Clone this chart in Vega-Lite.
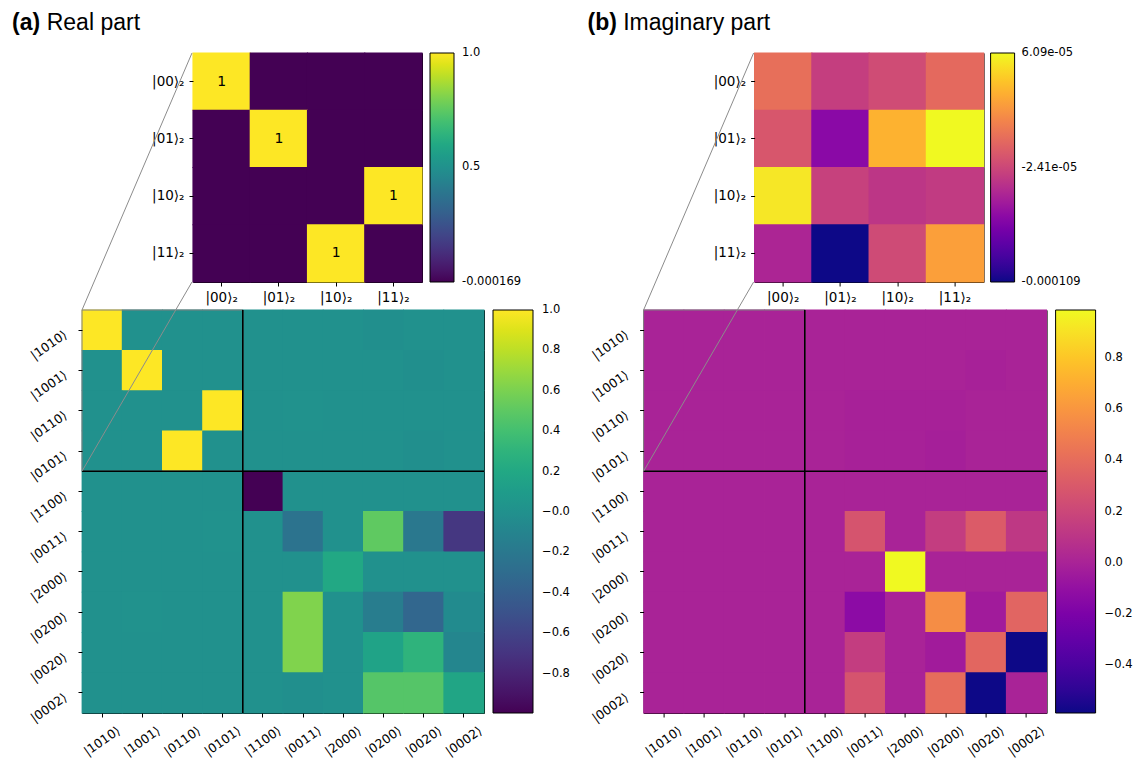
{
  "$schema": "https://vega.github.io/schema/vega-lite/v6.json",
  "background": "white",
  "padding": {"left": 12, "top": 11, "right": 2, "bottom": 2},
  "config": {
    "view": {"stroke": "black", "strokeWidth": 1},
    "axis": {"domain": false, "ticks": true, "tickColor": "black", "tickSize": 4, "tickWidth": 1, "labelColor": "black", "labelFont": "DejaVu Sans", "labelFontSize": 12.5, "grid": false, "labelOverlap": false},
    "legend": {"labelFont": "DejaVu Sans", "labelFontSize": 11.5, "labelColor": "black", "gradientStrokeColor": "black", "gradientStrokeWidth": 1, "padding": 0, "labelOverlap": false},
    "title": {"font": "Liberation Sans", "fontSize": 23, "anchor": "start", "frame": "group", "color": "black"}
  },
  "datasets": {
    "big": [
      {"r":"|1010⟩","c":"|1010⟩","re":1,"im":0},{"r":"|1010⟩","c":"|1001⟩","re":0,"im":0},{"r":"|1010⟩","c":"|0110⟩","re":0,"im":0},{"r":"|1010⟩","c":"|0101⟩","re":0,"im":0},{"r":"|1010⟩","c":"|1100⟩","re":0,"im":0},{"r":"|1010⟩","c":"|0011⟩","re":0,"im":0},{"r":"|1010⟩","c":"|2000⟩","re":0,"im":0},{"r":"|1010⟩","c":"|0200⟩","re":-0.01,"im":0},{"r":"|1010⟩","c":"|0020⟩","re":0,"im":0},{"r":"|1010⟩","c":"|0002⟩","re":0,"im":0},
      {"r":"|1001⟩","c":"|1010⟩","re":0,"im":0},{"r":"|1001⟩","c":"|1001⟩","re":1,"im":0},{"r":"|1001⟩","c":"|0110⟩","re":0,"im":0},{"r":"|1001⟩","c":"|0101⟩","re":0,"im":0},{"r":"|1001⟩","c":"|1100⟩","re":0,"im":0},{"r":"|1001⟩","c":"|0011⟩","re":0,"im":0},{"r":"|1001⟩","c":"|2000⟩","re":0,"im":0},{"r":"|1001⟩","c":"|0200⟩","re":0,"im":0},{"r":"|1001⟩","c":"|0020⟩","re":-0.01,"im":-0.01},{"r":"|1001⟩","c":"|0002⟩","re":0,"im":0},
      {"r":"|0110⟩","c":"|1010⟩","re":0,"im":0},{"r":"|0110⟩","c":"|1001⟩","re":0,"im":0},{"r":"|0110⟩","c":"|0110⟩","re":0,"im":0},{"r":"|0110⟩","c":"|0101⟩","re":1,"im":0},{"r":"|0110⟩","c":"|1100⟩","re":0,"im":0},{"r":"|0110⟩","c":"|0011⟩","re":0.01,"im":-0.01},{"r":"|0110⟩","c":"|2000⟩","re":0,"im":-0.01},{"r":"|0110⟩","c":"|0200⟩","re":0,"im":-0.01},{"r":"|0110⟩","c":"|0020⟩","re":0,"im":0},{"r":"|0110⟩","c":"|0002⟩","re":0,"im":0},
      {"r":"|0101⟩","c":"|1010⟩","re":0,"im":0},{"r":"|0101⟩","c":"|1001⟩","re":0,"im":0},{"r":"|0101⟩","c":"|0110⟩","re":1,"im":0},{"r":"|0101⟩","c":"|0101⟩","re":0,"im":0},{"r":"|0101⟩","c":"|1100⟩","re":0,"im":0},{"r":"|0101⟩","c":"|0011⟩","re":0,"im":-0.01},{"r":"|0101⟩","c":"|2000⟩","re":0,"im":-0.01},{"r":"|0101⟩","c":"|0200⟩","re":0,"im":-0.02},{"r":"|0101⟩","c":"|0020⟩","re":-0.01,"im":0},{"r":"|0101⟩","c":"|0002⟩","re":0,"im":0},
      {"r":"|1100⟩","c":"|1010⟩","re":0,"im":0},{"r":"|1100⟩","c":"|1001⟩","re":0,"im":0},{"r":"|1100⟩","c":"|0110⟩","re":0,"im":0},{"r":"|1100⟩","c":"|0101⟩","re":0,"im":0},{"r":"|1100⟩","c":"|1100⟩","re":-0.995,"im":0},{"r":"|1100⟩","c":"|0011⟩","re":0,"im":0},{"r":"|1100⟩","c":"|2000⟩","re":0,"im":0},{"r":"|1100⟩","c":"|0200⟩","re":0,"im":0},{"r":"|1100⟩","c":"|0020⟩","re":0,"im":0},{"r":"|1100⟩","c":"|0002⟩","re":0,"im":0},
      {"r":"|0011⟩","c":"|1010⟩","re":0,"im":0},{"r":"|0011⟩","c":"|1001⟩","re":0,"im":0},{"r":"|0011⟩","c":"|0110⟩","re":0,"im":0},{"r":"|0011⟩","c":"|0101⟩","re":0.01,"im":0},{"r":"|0011⟩","c":"|1100⟩","re":0,"im":0},{"r":"|0011⟩","c":"|0011⟩","re":-0.24,"im":0.27},{"r":"|0011⟩","c":"|2000⟩","re":0,"im":0},{"r":"|0011⟩","c":"|0200⟩","re":0.51,"im":0.15},{"r":"|0011⟩","c":"|0020⟩","re":-0.2,"im":0.31},{"r":"|0011⟩","c":"|0002⟩","re":-0.68,"im":0.12},
      {"r":"|2000⟩","c":"|1010⟩","re":0,"im":0},{"r":"|2000⟩","c":"|1001⟩","re":0,"im":0},{"r":"|2000⟩","c":"|0110⟩","re":0,"im":0},{"r":"|2000⟩","c":"|0101⟩","re":0,"im":0},{"r":"|2000⟩","c":"|1100⟩","re":0,"im":0},{"r":"|2000⟩","c":"|0011⟩","re":0,"im":0},{"r":"|2000⟩","c":"|2000⟩","re":0.2,"im":0.986},{"r":"|2000⟩","c":"|0200⟩","re":0,"im":0},{"r":"|2000⟩","c":"|0020⟩","re":0,"im":0},{"r":"|2000⟩","c":"|0002⟩","re":0,"im":0},
      {"r":"|0200⟩","c":"|1010⟩","re":0,"im":0},{"r":"|0200⟩","c":"|1001⟩","re":0.01,"im":0},{"r":"|0200⟩","c":"|0110⟩","re":0,"im":0},{"r":"|0200⟩","c":"|0101⟩","re":0,"im":0},{"r":"|0200⟩","c":"|1100⟩","re":0,"im":0},{"r":"|0200⟩","c":"|0011⟩","re":0.62,"im":-0.13},{"r":"|0200⟩","c":"|2000⟩","re":0,"im":0},{"r":"|0200⟩","c":"|0200⟩","re":-0.16,"im":0.56},{"r":"|0200⟩","c":"|0020⟩","re":-0.34,"im":-0.04},{"r":"|0200⟩","c":"|0002⟩","re":-0.04,"im":0.36},
      {"r":"|0020⟩","c":"|1010⟩","re":0,"im":0},{"r":"|0020⟩","c":"|1001⟩","re":0,"im":0},{"r":"|0020⟩","c":"|0110⟩","re":0,"im":0},{"r":"|0020⟩","c":"|0101⟩","re":0,"im":0},{"r":"|0020⟩","c":"|1100⟩","re":0,"im":0},{"r":"|0020⟩","c":"|0011⟩","re":0.62,"im":0.145},{"r":"|0020⟩","c":"|2000⟩","re":0,"im":0},{"r":"|0020⟩","c":"|0200⟩","re":0.16,"im":-0.04},{"r":"|0020⟩","c":"|0020⟩","re":0.3,"im":0.37},{"r":"|0020⟩","c":"|0002⟩","re":-0.08,"im":-0.586},
      {"r":"|0002⟩","c":"|1010⟩","re":0,"im":0},{"r":"|0002⟩","c":"|1001⟩","re":0,"im":0},{"r":"|0002⟩","c":"|0110⟩","re":0,"im":0},{"r":"|0002⟩","c":"|0101⟩","re":0,"im":0},{"r":"|0002⟩","c":"|1100⟩","re":0,"im":0},{"r":"|0002⟩","c":"|0011⟩","re":-0.01,"im":0.27},{"r":"|0002⟩","c":"|2000⟩","re":0,"im":0},{"r":"|0002⟩","c":"|0200⟩","re":0.47,"im":0.4},{"r":"|0002⟩","c":"|0020⟩","re":0.47,"im":-0.586},{"r":"|0002⟩","c":"|0002⟩","re":0.18,"im":0}
    ],
    "ins": [
      {"r":"|00⟩₂","c":"|00⟩₂","re":1,"im":-0.000001},{"r":"|00⟩₂","c":"|01⟩₂","re":-0.000169,"im":-0.000029},{"r":"|00⟩₂","c":"|10⟩₂","re":0,"im":-0.000021},{"r":"|00⟩₂","c":"|11⟩₂","re":0,"im":-0.000004},
      {"r":"|01⟩₂","c":"|00⟩₂","re":0,"im":-0.000015},{"r":"|01⟩₂","c":"|01⟩₂","re":1,"im":-0.000061},{"r":"|01⟩₂","c":"|10⟩₂","re":0,"im":0.000032},{"r":"|01⟩₂","c":"|11⟩₂","re":0,"im":0.0000609},
      {"r":"|10⟩₂","c":"|00⟩₂","re":0,"im":0.000054},{"r":"|10⟩₂","c":"|01⟩₂","re":0,"im":-0.0000275},{"r":"|10⟩₂","c":"|10⟩₂","re":0,"im":-0.000034},{"r":"|10⟩₂","c":"|11⟩₂","re":1,"im":-0.000031},
      {"r":"|11⟩₂","c":"|00⟩₂","re":0,"im":-0.000044},{"r":"|11⟩₂","c":"|01⟩₂","re":0,"im":-0.000109},{"r":"|11⟩₂","c":"|10⟩₂","re":1,"im":-0.000022},{"r":"|11⟩₂","c":"|11⟩₂","re":0,"im":0.0000235}
    ]
  },
  "hconcat": [
    {
      "title": {"text": "(a)", "fontWeight": "bold", "dx": -70, "offset": -23},
      "spacing": -252,
      "resolve": {"scale": {"color": "independent"}, "legend": {"color": "independent"}},
      "vconcat": [
        {
          "title": {"text": "Real part", "fontWeight": "normal", "dx": -35.3, "offset": 17},
          "spacing": 21,
          "resolve": {"scale": {"color": "independent"}, "legend": {"color": "independent"}},
          "hconcat": [
            {"width": 48, "height": 229, "data": {"values": []}, "mark": "point", "view": {"stroke": null}},
            {
              "width": 229, "height": 229,
              "data": {"name": "ins"},
              "layer": [
                {
                  "mark": {"type": "rect", "width": {"band": 1.02}, "height": {"band": 1.02}},
                  "encoding": {
                    "x": {"field": "c", "type": "ordinal", "sort": ["|00⟩₂","|01⟩₂","|10⟩₂","|11⟩₂"], "scale": {"paddingInner": 0, "paddingOuter": 0}, "title": null, "axis": {"labelAngle": 0, "labelAlign": "center", "labelBaseline": "top", "labelPadding": 4, "labelFontSize": 13.5}},
                    "y": {"field": "r", "type": "ordinal", "sort": ["|00⟩₂","|01⟩₂","|10⟩₂","|11⟩₂"], "scale": {"paddingInner": 0, "paddingOuter": 0}, "title": null, "axis": {"labelAngle": 0, "labelAlign": "right", "labelBaseline": "middle", "labelPadding": 5, "labelFontSize": 13.5}},
                    "color": {"field": "re", "type": "quantitative", "scale": {"scheme": "viridis", "domain": [-0.000169, 1]}, "legend": {"title": null, "orient": "right", "direction": "vertical", "offset": 8, "gradientLength": 229, "gradientThickness": 24, "values": [-0.000169, 0.5, 1], "labelExpr": "datum.value < 0 ? '-0.000169' : format(datum.value, '.1f')", "labelOffset": 8, "encode": {"labels": {"update": {"baseline": {"value": "middle"}}}}}}
                  }
                },
                {
                  "transform": [{"filter": "datum.re > 0.5"}],
                  "mark": {"type": "text", "font": "DejaVu Sans", "fontSize": 14, "color": "black"},
                  "encoding": {
                    "x": {"field": "c", "type": "ordinal", "sort": ["|00⟩₂","|01⟩₂","|10⟩₂","|11⟩₂"]},
                    "y": {"field": "r", "type": "ordinal", "sort": ["|00⟩₂","|01⟩₂","|10⟩₂","|11⟩₂"]},
                    "text": {"field": "re", "type": "quantitative", "format": ".0f"}
                  }
                }
              ]
            }
          ]
        },
        {
          "width": 402, "height": 403,
          "resolve": {"scale": {"x": "independent", "y": "independent"}},
          "layer": [
            {
              "data": {"name": "big"},
              "mark": {"type": "rect", "width": {"band": 1.02}, "height": {"band": 1.02}},
              "encoding": {
                "x": {"field": "c", "type": "ordinal", "sort": ["|1010⟩","|1001⟩","|0110⟩","|0101⟩","|1100⟩","|0011⟩","|2000⟩","|0200⟩","|0020⟩","|0002⟩"], "scale": {"paddingInner": 0, "paddingOuter": 0}, "title": null, "axis": {"labelAngle": -35, "labelAlign": "center", "labelBaseline": "middle", "labelPadding": 23.7}},
                "y": {"field": "r", "type": "ordinal", "sort": ["|1010⟩","|1001⟩","|0110⟩","|0101⟩","|1100⟩","|0011⟩","|2000⟩","|0200⟩","|0020⟩","|0002⟩"], "scale": {"paddingInner": 0, "paddingOuter": 0}, "title": null, "axis": {"labelAngle": -35, "labelAlign": "center", "labelBaseline": "middle", "labelPadding": 29.6, "labelOffset": 15}},
                "color": {"field": "re", "type": "quantitative", "scale": {"scheme": "viridis", "domain": [-0.995, 1]}, "legend": {"title": null, "orient": "right", "direction": "vertical", "offset": 9, "gradientLength": 403, "gradientThickness": 40, "values": [1, 0.8, 0.6, 0.4, 0.2, 0, -0.2, -0.4, -0.6, -0.8], "labelExpr": "datum.value == 0 ? '−0.0' : format(datum.value, '.1f')", "labelOffset": 9, "encode": {"labels": {"update": {"baseline": {"value": "middle"}}}}}}
              }
            },
            {
              "data": {"values": [{}]},
              "layer": [
                {"mark": {"type": "rect", "filled": false, "color": "#808080", "strokeWidth": 1},
                 "encoding": {"x": {"datum": 0, "type": "quantitative", "scale": {"domain": [0, 10], "nice": false, "zero": false}, "axis": null}, "x2": {"datum": 4}, "y": {"datum": 0, "type": "quantitative", "scale": {"domain": [0, 10], "nice": false, "zero": false, "reverse": true}, "axis": null}, "y2": {"datum": 4}}},
                {"mark": {"type": "rule", "color": "black", "strokeWidth": 1.6},
                 "encoding": {"x": {"datum": 4, "type": "quantitative", "scale": {"domain": [0, 10], "nice": false, "zero": false}, "axis": null}}},
                {"mark": {"type": "rule", "color": "black", "strokeWidth": 1.6},
                 "encoding": {"y": {"datum": 4, "type": "quantitative", "scale": {"domain": [0, 10], "nice": false, "zero": false, "reverse": true}, "axis": null}}},
                {"mark": {"type": "rule", "color": "#8c8c8c", "strokeWidth": 1},
                 "encoding": {"x": {"datum": 2.736, "type": "quantitative", "scale": {"domain": [0, 10], "nice": false, "zero": false}, "axis": null}, "y": {"datum": -6.377, "type": "quantitative", "scale": {"domain": [0, 10], "nice": false, "zero": false, "reverse": true}, "axis": null}, "x2": {"datum": 0}, "y2": {"datum": 0}}},
                {"mark": {"type": "rule", "color": "#8c8c8c", "strokeWidth": 1},
                 "encoding": {"x": {"datum": 2.736, "type": "quantitative", "scale": {"domain": [0, 10], "nice": false, "zero": false}, "axis": null}, "y": {"datum": -0.695, "type": "quantitative", "scale": {"domain": [0, 10], "nice": false, "zero": false, "reverse": true}, "axis": null}, "x2": {"datum": 0}, "y2": {"datum": 4}}}
              ]
            }
          ]
        }
      ]
    },
    {
      "title": {"text": "(b)", "fontWeight": "bold", "dx": -56, "offset": -23},
      "spacing": -252,
      "resolve": {"scale": {"color": "independent"}, "legend": {"color": "independent"}},
      "vconcat": [
        {
          "title": {"text": "Imaginary part", "fontWeight": "normal", "dx": -20.4, "offset": 17},
          "spacing": 21,
          "resolve": {"scale": {"color": "independent"}, "legend": {"color": "independent"}},
          "hconcat": [
            {"width": 48, "height": 229, "data": {"values": []}, "mark": "point", "view": {"stroke": null}},
            {
              "width": 229, "height": 229,
              "data": {"name": "ins"},
              "mark": {"type": "rect", "width": {"band": 1.02}, "height": {"band": 1.02}},
              "encoding": {
                "x": {"field": "c", "type": "ordinal", "sort": ["|00⟩₂","|01⟩₂","|10⟩₂","|11⟩₂"], "scale": {"paddingInner": 0, "paddingOuter": 0}, "title": null, "axis": {"labelAngle": 0, "labelAlign": "center", "labelBaseline": "top", "labelPadding": 4, "labelFontSize": 13.5}},
                "y": {"field": "r", "type": "ordinal", "sort": ["|00⟩₂","|01⟩₂","|10⟩₂","|11⟩₂"], "scale": {"paddingInner": 0, "paddingOuter": 0}, "title": null, "axis": {"labelAngle": 0, "labelAlign": "right", "labelBaseline": "middle", "labelPadding": 5, "labelFontSize": 13.5}},
                "color": {"field": "im", "type": "quantitative", "scale": {"scheme": "plasma", "domain": [-0.000109, 0.0000609]}, "legend": {"title": null, "orient": "right", "direction": "vertical", "offset": 7, "gradientLength": 229, "gradientThickness": 24, "values": [-0.000109, -0.0000241, 0.0000609], "labelExpr": "datum.value < -0.0001 ? '-0.000109' : datum.value < 0 ? '-2.41e-05' : '6.09e-05'", "labelOffset": 7, "encode": {"labels": {"update": {"baseline": {"value": "middle"}}}}}}
              }
            }
          ]
        },
        {
          "width": 403, "height": 403,
          "resolve": {"scale": {"x": "independent", "y": "independent"}},
          "layer": [
            {
              "data": {"name": "big"},
              "mark": {"type": "rect", "width": {"band": 1.02}, "height": {"band": 1.02}},
              "encoding": {
                "x": {"field": "c", "type": "ordinal", "sort": ["|1010⟩","|1001⟩","|0110⟩","|0101⟩","|1100⟩","|0011⟩","|2000⟩","|0200⟩","|0020⟩","|0002⟩"], "scale": {"paddingInner": 0, "paddingOuter": 0}, "title": null, "axis": {"labelAngle": -35, "labelAlign": "center", "labelBaseline": "middle", "labelPadding": 23.7}},
                "y": {"field": "r", "type": "ordinal", "sort": ["|1010⟩","|1001⟩","|0110⟩","|0101⟩","|1100⟩","|0011⟩","|2000⟩","|0200⟩","|0020⟩","|0002⟩"], "scale": {"paddingInner": 0, "paddingOuter": 0}, "title": null, "axis": {"labelAngle": -35, "labelAlign": "center", "labelBaseline": "middle", "labelPadding": 29.6, "labelOffset": 15}},
                "color": {"field": "im", "type": "quantitative", "scale": {"scheme": "plasma", "domain": [-0.586, 0.986]}, "legend": {"title": null, "orient": "right", "direction": "vertical", "offset": 9, "gradientLength": 403, "gradientThickness": 40, "values": [0.8, 0.6, 0.4, 0.2, 0, -0.2, -0.4], "labelExpr": "format(datum.value, '.1f')", "labelOffset": 9, "encode": {"labels": {"update": {"baseline": {"value": "middle"}}}}}}
              }
            },
            {
              "data": {"values": [{}]},
              "layer": [
                {"mark": {"type": "rect", "filled": false, "color": "#808080", "strokeWidth": 1},
                 "encoding": {"x": {"datum": 0, "type": "quantitative", "scale": {"domain": [0, 10], "nice": false, "zero": false}, "axis": null}, "x2": {"datum": 4}, "y": {"datum": 0, "type": "quantitative", "scale": {"domain": [0, 10], "nice": false, "zero": false, "reverse": true}, "axis": null}, "y2": {"datum": 4}}},
                {"mark": {"type": "rule", "color": "black", "strokeWidth": 1.6},
                 "encoding": {"x": {"datum": 4, "type": "quantitative", "scale": {"domain": [0, 10], "nice": false, "zero": false}, "axis": null}}},
                {"mark": {"type": "rule", "color": "black", "strokeWidth": 1.6},
                 "encoding": {"y": {"datum": 4, "type": "quantitative", "scale": {"domain": [0, 10], "nice": false, "zero": false, "reverse": true}, "axis": null}}},
                {"mark": {"type": "rule", "color": "#8c8c8c", "strokeWidth": 1},
                 "encoding": {"x": {"datum": 2.73, "type": "quantitative", "scale": {"domain": [0, 10], "nice": false, "zero": false}, "axis": null}, "y": {"datum": -6.377, "type": "quantitative", "scale": {"domain": [0, 10], "nice": false, "zero": false, "reverse": true}, "axis": null}, "x2": {"datum": 0}, "y2": {"datum": 0}}},
                {"mark": {"type": "rule", "color": "#8c8c8c", "strokeWidth": 1},
                 "encoding": {"x": {"datum": 2.73, "type": "quantitative", "scale": {"domain": [0, 10], "nice": false, "zero": false}, "axis": null}, "y": {"datum": -0.695, "type": "quantitative", "scale": {"domain": [0, 10], "nice": false, "zero": false, "reverse": true}, "axis": null}, "x2": {"datum": 0}, "y2": {"datum": 4}}}
              ]
            }
          ]
        }
      ]
    }
  ],
  "spacing": 16.6,
  "resolve": {"scale": {"color": "independent"}, "legend": {"color": "independent"}}
}
